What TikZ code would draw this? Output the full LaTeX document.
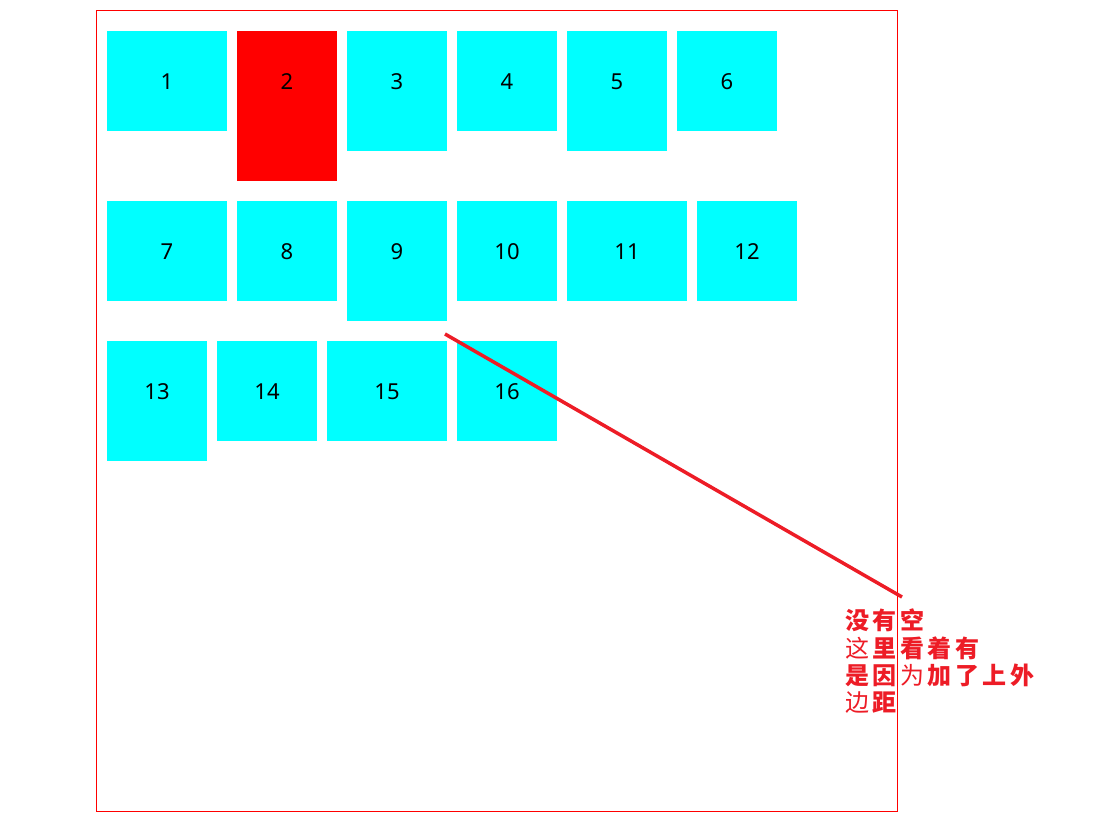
\documentclass[tikz,border=0pt]{standalone}
\usepackage{fontspec}
\setmainfont{Noto Sans}
\newfontfamily\cjk{Noto Sans CJK SC}
\usetikzlibrary{positioning}
\definecolor{boxcyan}{rgb}{0.0,1.0,1.0}
\definecolor{boxred}{rgb}{1.0,0.0,0.0}
\definecolor{notered}{rgb}{0.93,0.11,0.15}
% one character cell of the note, regular or bold
\newcommand{\zr}[1]{\makebox[27.5pt][l]{#1}}
\newcommand{\zb}[1]{\makebox[27.5pt][l]{\bfseries #1}}

\begin{document}
\begin{tikzpicture}[x=1pt, y=-1pt,
    cell/.style={fill=boxcyan, draw=none},
    num/.style={align=center, inner sep=0pt, font=\fontsize{22}{26}\selectfont},
    note/.style={align=left, anchor=north west, inner sep=0pt, text=notered,
        font=\cjk\fontsize{24}{27.3}\selectfont}]
\useasboundingbox (0,0) rectangle (1101,839);
% outer frame
\draw[draw=boxred, line width=1pt] (96.5,10.5) rectangle (897.5,811.5);
% first row
\fill[cell] (107,31) rectangle (227,131);
\node[num] (n1) at (167,82) {1};
\fill[fill=boxred] (237,31) rectangle (337,181);
\node[num] (n2) at (287,82) {2};
\fill[cell] (347,31) rectangle (447,151);
\node[num] (n3) at (397,82) {3};
\fill[cell] (457,31) rectangle (557,131);
\node[num] (n4) at (507,82) {4};
\fill[cell] (567,31) rectangle (667,151);
\node[num] (n5) at (617,82) {5};
\fill[cell] (677,31) rectangle (777,131);
\node[num] (n6) at (727,82) {6};
% second row
\fill[cell] (107,201) rectangle (227,301);
\node[num] (n7) at (167,252) {7};
\fill[cell] (237,201) rectangle (337,301);
\node[num] (n8) at (287,252) {8};
\fill[cell] (347,201) rectangle (447,321);
\node[num] (n9) at (397,252) {9};
\fill[cell] (457,201) rectangle (557,301);
\node[num] (n10) at (507,252) {10};
\fill[cell] (567,201) rectangle (687,301);
\node[num] (n11) at (627,252) {11};
\fill[cell] (697,201) rectangle (797,301);
\node[num] (n12) at (747,252) {12};
% third row
\fill[cell] (107,341) rectangle (207,461);
\node[num] (n13) at (157,392) {13};
\fill[cell] (217,341) rectangle (317,441);
\node[num] (n14) at (267,392) {14};
\fill[cell] (327,341) rectangle (447,441);
\node[num] (n15) at (387,392) {15};
\fill[cell] (457,341) rectangle (557,441);
\node[num] (n16) at (507,392) {16};
% annotation
\coordinate (gap) at (445,334);
\coordinate (tail) at (902,597);
\draw[draw=notered, line width=3.5pt] (gap) -- (tail);
\node[note] (remark) at (845,609)
    {\zb{没}\zb{有}\zb{空}\\
     \zr{这}\zb{里}\zb{看}\zb{着}\zb{有}\\
     \zb{是}\zb{因}\zr{为}\zb{加}\zb{了}\zb{上}\zb{外}\\
     \zr{边}\zb{距}};
\end{tikzpicture}
\end{document}
